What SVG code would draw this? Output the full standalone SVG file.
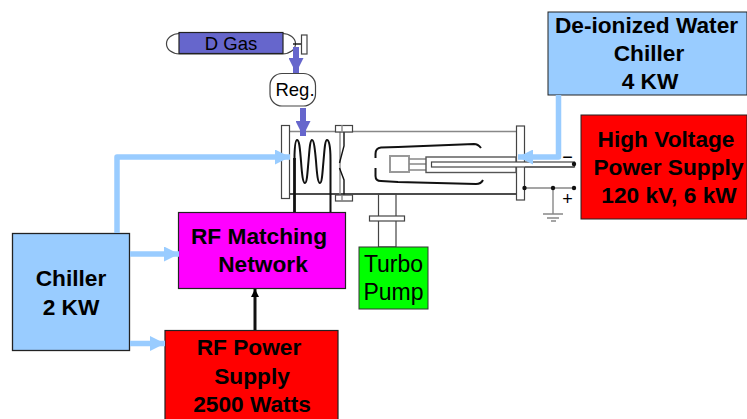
<svg xmlns="http://www.w3.org/2000/svg" width="747" height="419" viewBox="0 0 747 419">
<defs>
<marker id="lb" markerUnits="userSpaceOnUse" markerWidth="15" markerHeight="15" refX="15" refY="7.500" orient="auto"><path d="M0 0L15 7.500L0 15Z" fill="#99ccff"/></marker>
<marker id="pb" markerUnits="userSpaceOnUse" markerWidth="15" markerHeight="15" refX="15" refY="7.500" orient="auto"><path d="M0 0L15 7.500L0 15Z" fill="#6666cc"/></marker>
<marker id="bk" markerUnits="userSpaceOnUse" markerWidth="8" markerHeight="8" refX="8" refY="4" orient="auto"><path d="M0 0L8 4L0 8Z" fill="#000"/></marker>
</defs>
<style>
text{font-family:"Liberation Sans",Arial,sans-serif;text-anchor:middle;fill:#000}
.b{font-weight:700;font-size:22.700px}
.r{font-size:23px}
.s{font-size:18.500px}
.box{stroke:#222;stroke-width:1.300}
.o{fill:#fff;stroke:#444;stroke-width:1.200}
.g{fill:none;stroke:#888;stroke-width:1.400}
.k{fill:none;stroke:#111;stroke-width:1.400}
.lb{fill:none;stroke:#99ccff;stroke-width:5.500;stroke-linejoin:round}
.pb{fill:none;stroke:#6666cc;stroke-width:6}
</style>
<rect width="747" height="419" fill="#fff"/>
<g id="chamber">
<path class="g" d="M289 131.500H516"/>
<path class="k" d="M289 194H516"/>
<path class="g" d="M340 132V195"/>
<path class="k" stroke-width="1" d="M344 132V146L339.500 163M339.500 168L344 180V195"/>
<rect class="o" x="281.500" y="125.500" width="8" height="73"/>
<rect class="o" x="335.500" y="125.500" width="17" height="6.500"/>
<rect class="o" x="335.500" y="195" width="17" height="6"/>
<path class="g" d="M342 125V132M342 195V201"/>
<rect class="o" x="516.500" y="126" width="8" height="74"/>
<path d="M481 148Q478 144 474 144L398 147L381 147.500Q375.500 148 375.500 154V158" fill="none" stroke="#111" stroke-width="2"/>
<path d="M375.500 168V176Q375.500 181 381 181L398 182L476 184Q481 184 483 180" fill="none" stroke="#111" stroke-width="2"/>
<rect x="390" y="156" width="19" height="16" fill="#fff" stroke="#999" stroke-width="2"/>
<path class="g" d="M409 159H426M409 164H426M409 170H426"/>
<rect x="426" y="157" width="90" height="15.500" fill="#fff" stroke="#555" stroke-width="1.400"/>
<rect x="431.500" y="162" width="143" height="5" fill="#fff" stroke="#444" stroke-width="1.200"/>
<path fill="none" stroke="#111" stroke-width="2" d="M294.500 160V155Q295 140 297 140C299.500 140 300 150 301 161C302 175 303 183 305 183C307 183 307.500 172 308.500 161C309.500 150 310 140 312 140C314 140 315 150 316 161C317 175 318 183 320 183C322 183 322.500 172 323.500 161C324.500 150 325 140 327 140C329 140 330.500 146 330.500 160V217"/>
<path d="M294.500 158V217" fill="none" stroke="#111" stroke-width="2.800"/>
<rect x="378.500" y="194" width="17.500" height="53" fill="none" stroke="#444" stroke-width="1.200"/>
<rect class="o" x="369.500" y="216" width="35" height="5"/>
</g>
<g id="gnd">
<path class="g" d="M525 188H574M553 188V214M543 214H563M547 218H559M551 221H556"/>
<circle cx="524.500" cy="188" r="2.200" fill="#111"/>
<circle cx="553" cy="188" r="2.200" fill="#111"/>
<circle cx="574" cy="188" r="2.200" fill="#111"/>
<circle cx="574" cy="164" r="2.200" fill="#111"/>
<path d="M525 167H574" stroke="#444" stroke-width="1.200"/>
<text x="567.500" y="163" font-size="18" fill="#555">−</text>
<text x="567.500" y="205" font-size="18" fill="#555">+</text>
</g>
<g id="dgas">
<rect class="o" x="166.500" y="33.500" width="129" height="20.500" rx="13" ry="10"/>
<rect x="179" y="32.500" width="104" height="21" fill="#6666cc" stroke="#222" stroke-width="1.200"/>
<text class="s" x="231" y="50">D Gas</text>
<path class="k" d="M293 44H302"/>
<rect class="o" x="301.500" y="35" width="5.500" height="19"/>
</g>
<g id="reg">
<rect class="o" x="270" y="73.500" width="45.500" height="32.500" rx="12"/>
<text class="s" x="295" y="96">Reg.</text>
</g>
<g id="water">
<rect x="548" y="12" width="199" height="83" fill="#99ccff" stroke="#222" stroke-width="1"/>
<text class="b" x="646.500" y="33">De-ionized Water</text>
<text class="b" x="649" y="61">Chiller</text>
<text class="b" x="650" y="89">4 KW</text>
</g>
<g id="hv">
<rect x="581" y="115" width="166" height="104" fill="#ff0000" stroke="#222" stroke-width="1"/>
<text class="b" x="666" y="147">High Voltage</text>
<text class="b" x="668.500" y="175">Power Supply</text>
<text class="b" x="669" y="203">120 kV, 6 kW</text>
</g>
<g id="chiller">
<rect class="box" x="12.500" y="233.500" width="117" height="117" fill="#99ccff"/>
<text class="b" x="71" y="286">Chiller</text>
<text class="b" x="71" y="315">2 KW</text>
</g>
<g id="match">
<rect x="178.500" y="212.500" width="167" height="76" fill="#ff00ff" stroke="#222" stroke-width="1.200"/>
<text class="b" x="259" y="244">RF Matching</text>
<text class="b" x="263" y="272">Network</text>
</g>
<g id="rfpower">
<rect x="165" y="330.500" width="173" height="90" fill="#ff0000" stroke="#222" stroke-width="1.200"/>
<text class="b" x="249" y="355">RF Power</text>
<text class="b" x="252" y="384">Supply</text>
<text class="b" x="252" y="412">2500 Watts</text>
</g>
<g id="turbo">
<rect x="359" y="247" width="69" height="62" fill="#00ff00" stroke="#333" stroke-width="1"/>
<text class="r" x="393.500" y="272">Turbo</text>
<text class="r" x="393.500" y="300">Pump</text>
</g>
<g id="connectors">
<path class="pb" d="M296 47V73" marker-end="url(#pb)"/>
<path class="pb" d="M303 108V136" marker-end="url(#pb)"/>
<path class="lb" d="M117 233V157H290" marker-end="url(#lb)"/>
<path class="lb" d="M130 254H179" marker-end="url(#lb)"/>
<path class="lb" d="M130 343.500H165" marker-end="url(#lb)"/>
<path class="lb" d="M558.500 95V157H518" marker-end="url(#lb)"/>
<path d="M255 330V289" fill="none" stroke="#111" stroke-width="3" marker-end="url(#bk)"/>
</g>
</svg>
